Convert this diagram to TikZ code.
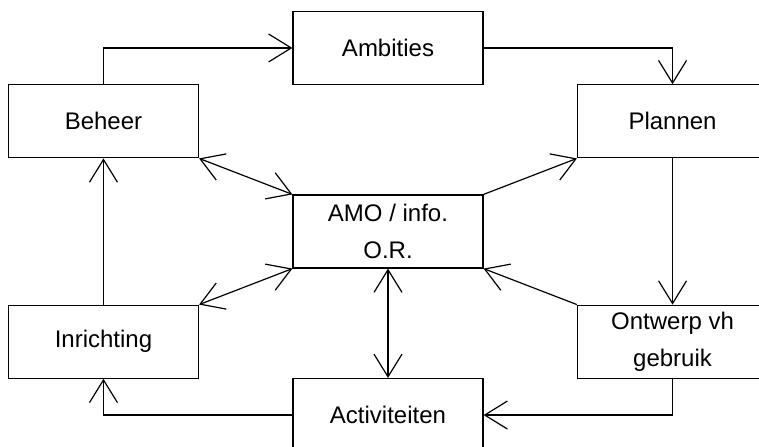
\documentclass[tikz,border=0pt]{standalone}
\usepackage{fontspec}
\setmainfont{Liberation Sans}
\usetikzlibrary{arrows.meta, positioning}

\begin{document}
\begin{tikzpicture}[
    x=0.75pt, y=-0.75pt,
    >={Straight Barb[length=17pt,width=21pt]},
    line width=0.9pt,
    node distance=27pt and 70pt,
    box/.style={draw, rectangle, align=center, minimum width=142.5pt, minimum height=54.75pt,
        font=\fontsize{18}{28}\selectfont, inner sep=0pt}
    ]

    \useasboundingbox (0,0) rectangle (759,446);
    \clip (0,0) rectangle (759,446);

    % --- Centrum ---
    \node (amo) [box] at (388,231.5) {AMO / info.\\O.R.};

    % --- Rondom ---
    \node (beheer) [box, above left=of amo] {Beheer};
    \node (plannen) [box, above right=of amo] {Plannen};
    \node (inrichting) [box, below left=of amo] {Inrichting};
    \node (ontwerp) [box, below right=of amo] {Ontwerp vh\\gebruik};
    \node (ambities) [box, above=82pt of amo] {Ambities};
    \node (activiteiten) [box, below=82pt of amo] {Activiteiten};

    % --- Kringloop ---
    \draw[->] (beheer.north) |- (ambities.west);
    \draw[->] (ambities.east) -| (plannen.north);
    \draw[->] (plannen.south) -- (ontwerp.north);
    \draw[->] (ontwerp.south) |- (activiteiten.east);
    \draw[->] (activiteiten.west) -| (inrichting.south);
    \draw[->] (inrichting.north) -- (beheer.south);

    % --- Verbindingen met AMO ---
    \draw[<->] (beheer.south east) -- (amo.north west);
    \draw[->] (amo.north east) -- (plannen.south west);
    \draw[->] (ontwerp.north west) -- (amo.south east);
    \draw[<->] (inrichting.north east) -- (amo.south west);
    \draw[<->] (amo.south) -- (activiteiten.north);

\end{tikzpicture}
\end{document}
